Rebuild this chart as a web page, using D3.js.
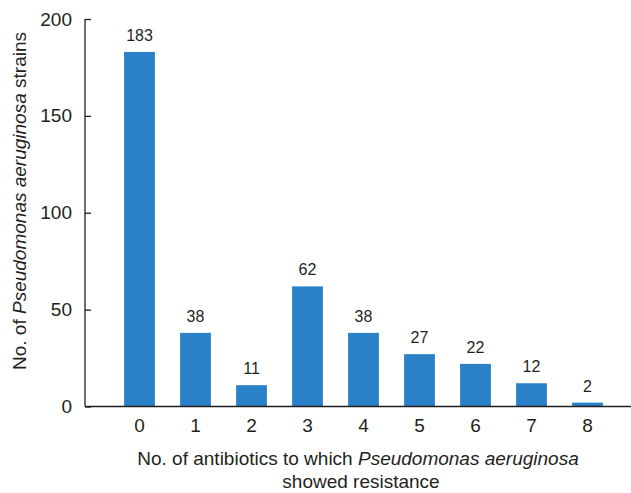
<!DOCTYPE html>
<html lang="en">
<head>
    <script src="https://d3js.org/d3.v7.min.js"></script>
    <style>
        body { margin: 0; background: white; }
        text { font-family: "Liberation Sans", Arial, Helvetica, sans-serif; fill: #231f20; }
    </style>
</head>
<body>
    <div id="chart"></div>
<script>
    // number of antibiotics resisted vs count of strains
    const categories = ["0", "1", "2", "3", "4", "5", "6", "7", "8"]
    const counts = [183, 38, 11, 62, 38, 27, 22, 12, 2]
    const yTicks = [0, 50, 100, 150, 200]

    const width = 631
    const height = 493
    const axisX = 85
    const axisY = 406.5

    const svg = d3.select("div#chart").append("svg")
        .attr("width", width)
        .attr("height", height)

    const xScale = d3.scaleBand().domain(categories).range([111.5, 615.5])
        .paddingInner(0.45).paddingOuter(0.225)
    const yScale = d3.scaleLinear().domain([0, 200]).range([axisY, 19])

    // bars
    svg.selectAll("rect.bar")
        .data(counts)
        .join("rect")
        .attr("class", "bar")
        .attr("x", (d, i) => xScale(categories[i]))
        .attr("width", xScale.bandwidth())
        .attr("y", d => yScale(d))
        .attr("height", d => axisY - yScale(d))
        .style("fill", "#2a81c7")

    // value labels
    svg.selectAll("text.val")
        .data(counts)
        .join("text")
        .attr("class", "val")
        .attr("x", (d, i) => xScale(categories[i]) + xScale.bandwidth() / 2)
        .attr("y", d => yScale(d) - 11)
        .attr("text-anchor", "middle")
        .style("font-size", "16px")
        .text(d => d)

    // y axis
    const yAxis = d3.axisRight(yScale).tickValues(yTicks).tickSize(6).tickFormat(d => d)
    const gy = svg.append("g")
        .attr("transform", "translate(" + axisX + ",0)")
        .call(yAxis)
    gy.select(".domain").attr("d", "M0," + yScale(200) + "V" + axisY).style("stroke", "#231f20").style("stroke-width", 1.3)
    gy.selectAll(".tick line").style("stroke", "#231f20").style("stroke-width", 1.3)
    gy.selectAll(".tick text")
        .attr("x", -13)
        .attr("text-anchor", "end")
        .style("font-size", "19px")
        .style("font-family", "'Liberation Sans', Arial, sans-serif")
        .style("fill", "#231f20")

    // x axis
    const xAxis = d3.axisBottom(xScale).tickSize(0).tickPadding(12)
    const gx = svg.append("g")
        .attr("transform", "translate(0," + axisY + ")")
        .call(xAxis)
    gx.select(".domain").attr("d", "M" + axisX + ",0H" + width).style("stroke", "#231f20").style("stroke-width", 1.3)
    gx.selectAll(".tick text")
        .style("font-size", "19px")
        .style("font-family", "'Liberation Sans', Arial, sans-serif")
        .style("fill", "#231f20")

    // x title
    const xt = svg.append("text")
        .attr("x", 358)
        .attr("y", 465)
        .attr("text-anchor", "middle")
        .style("font-size", "19px")
    xt.append("tspan").text("No. of antibiotics to which ")
    xt.append("tspan").style("font-style", "italic").text("Pseudomonas aeruginosa")
    svg.append("text")
        .attr("x", 361)
        .attr("y", 488)
        .attr("text-anchor", "middle")
        .style("font-size", "19px")
        .text("showed resistance")

    // y title
    const yt = svg.append("text")
        .attr("transform", "translate(26,201) rotate(-90)")
        .attr("text-anchor", "middle")
        .style("font-size", "19px")
    yt.append("tspan").text("No. of ")
    yt.append("tspan").style("font-style", "italic").text("Pseudomonas aeruginosa")
    yt.append("tspan").text(" strains")
</script>
</body>
</html>
